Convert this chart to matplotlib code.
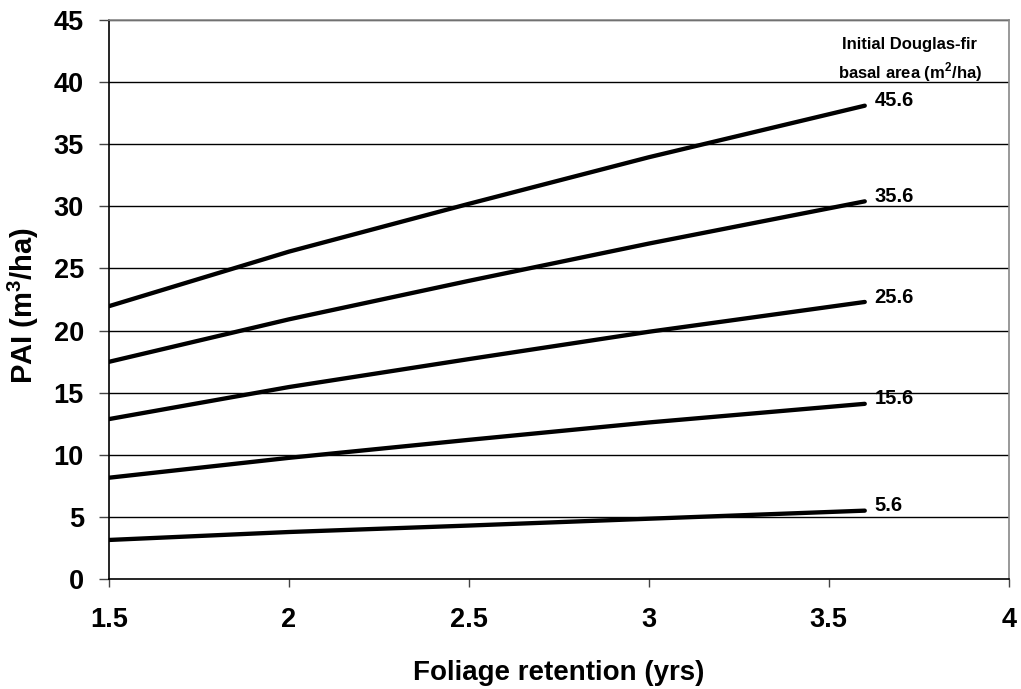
import matplotlib.pyplot as plt

plt.rcParams['font.family'] = ['Liberation Sans', 'DejaVu Sans']
plt.rcParams['font.weight'] = 'bold'
plt.rcParams['mathtext.fontset'] = 'custom'
plt.rcParams['mathtext.rm'] = 'Liberation Sans'
plt.rcParams['mathtext.bf'] = 'Liberation Sans:bold'

# Foliage retention (yrs) at which each curve was read
retention = [1.5, 2.0, 2.5, 3.0, 3.6]

# PAI (m3/ha) for each initial Douglas-fir basal area (m2/ha)
basal_areas = ['45.6', '35.6', '25.6', '15.6', '5.6']
pai_45_6 = [21.96, 26.35, 30.2, 33.95, 38.1]
pai_35_6 = [17.48, 20.9, 24.0, 27.0, 30.4]
pai_25_6 = [12.87, 15.45, 17.7, 19.9, 22.3]
pai_15_6 = [8.15, 9.75, 11.2, 12.6, 14.1]
pai_5_6 = [3.14, 3.78, 4.3, 4.85, 5.5]

x_ticks = [1.5, 2, 2.5, 3, 3.5, 4]
x_tick_labels = ['1.5', '2', '2.5', '3', '3.5', '4']
y_ticks = list(range(0, 46, 5))

fig = plt.figure(figsize=(10.21, 6.89), dpi=100)
ax = fig.add_axes([0.1067, 0.1597, 0.8813, 0.8113])

# horizontal gridlines, Excel style
for yv in y_ticks[1:]:
	ax.axhline(yv, color='black', lw=1.0, zorder=1)

for name, pai in zip(basal_areas, [pai_45_6, pai_35_6, pai_25_6, pai_15_6, pai_5_6]):
	ax.plot(retention, pai, color='black', lw=3.1, solid_capstyle='round', zorder=3)
	ax.annotate(name, xy=(retention[-1], pai[-1]), xytext=(7, 3.5), textcoords='offset points',
				ha='left', va='center', fontsize=14.5, fontweight='bold')

ax.text(3.725, 43.0, 'Initial Douglas-fir', ha='center', va='center', fontsize=12, fontweight='bold')
ax.text(3.725, 40.8, 'basal area (m$^\\mathbf{2}$/ha)', ha='center', va='center', fontsize=12,
		fontweight='bold')

ax.set_xlim(1.5, 4)
ax.set_ylim(0, 45)
ax.set_xticks(x_ticks)
ax.set_xticklabels(x_tick_labels)
ax.set_yticks(y_ticks)
ax.tick_params(axis='both', labelsize=19.5, direction='out', width=1, color='#444444')
ax.tick_params(axis='x', length=6, pad=14)
ax.tick_params(axis='y', length=7, pad=11)
for lab in ax.get_xticklabels() + ax.get_yticklabels():
	lab.set_fontweight('bold')

ax.spines['left'].set_color('black')
ax.spines['bottom'].set_color('black')
ax.spines['top'].set_color('#888888')
ax.spines['right'].set_color('#888888')
for sp in ax.spines.values():
	sp.set_linewidth(1.2)

ax.set_xlabel('Foliage retention (yrs)', fontsize=20, fontweight='bold')
ax.xaxis.set_label_coords(0.5, -0.145)
ax.xaxis.label.set_va('top')
ax.set_ylabel('PAI (m$^\\mathbf{3}$/ha)', fontsize=21, fontweight='bold')
ax.yaxis.set_label_coords(-0.075, 0.49)

plt.savefig('out.png', dpi=100)
